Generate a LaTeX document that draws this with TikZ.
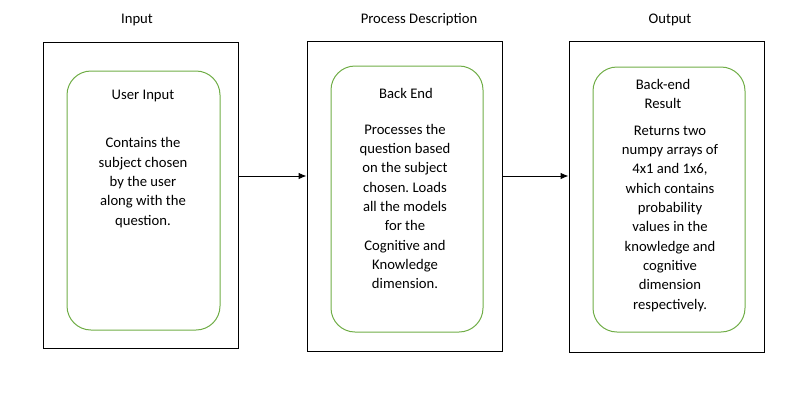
\documentclass[tikz,border=0pt]{standalone}
\usepackage{fontspec}
\setmainfont{Carlito}
\frenchspacing
\usetikzlibrary{arrows.meta}
\definecolor{boxgreen}{HTML}{70AD47}
\tikzset{
  outerbox/.style={draw=black, line width=0.75pt, inner sep=0pt, minimum width=#1},
  greenbox/.style={draw=boxgreen, line width=0.75pt, rounded corners=18pt, inner sep=0pt},
  txt/.style={font=\fontsize{11pt}{14.5pt}\selectfont, align=center, anchor=base, inner sep=0pt},
  conn/.style={line width=0.75pt, -{Latex[length=6pt,width=5pt]}}
}
\begin{document}
\begin{tikzpicture}[x=0.75pt,y=-0.75pt]
\useasboundingbox (0,0) rectangle (791,400);
% outer boxes
\node[outerbox=146.25pt, minimum height=229.5pt] (b1) at (140.5,195) {};
\node[outerbox=146.25pt, minimum height=232.5pt] (b2) at (404.5,196) {};
\node[outerbox=146.25pt, minimum height=233.25pt] (b3) at (666.5,196.5) {};
% green boxes
\node[greenbox, minimum width=114.75pt, minimum height=194.25pt] (g1) at (143.5,200.5) {};
\node[greenbox, minimum width=114pt, minimum height=199.5pt] (g2) at (407,199) {};
\node[greenbox, minimum width=114pt, minimum height=198.75pt] (g3) at (669,199.5) {};
% titles
\node[txt] (t1) at (137,23) {Input};
\node[txt] (t2) at (419,23) {Process Description};
\node[txt] (t3) at (670,23) {Output};
% headings (anchor = baseline of last line)
\node[txt] (h1) at (143,99) {User Input};
\node[txt] (h2) at (406,98) {Back End};
\node[txt] (h3) at (663,108.5) {Back-end\\Result};
% bodies (anchor = baseline of last line)
\node[txt] (d1) at (143,225.3) {Contains the\\subject chosen\\by the user\\along with the\\question.};
\node[txt] (d2) at (405,288.7) {Processes the\\question based\\on the subject\\chosen. Loads\\all the models\\for the\\Cognitive and\\Knowledge\\dimension.};
\node[txt] (d3) at (670,309) {Returns two\\numpy arrays of\\4x1 and 1x6,\\which contains\\probability\\values in the\\knowledge and\\cognitive\\dimension\\respectively.};
% connectors
\coordinate (ay) at (0,176);
\draw[conn] (b1.east |- ay) -- (b2.west |- ay);
\draw[conn] (b2.east |- ay) -- (b3.west |- ay);
\end{tikzpicture}
\end{document}
